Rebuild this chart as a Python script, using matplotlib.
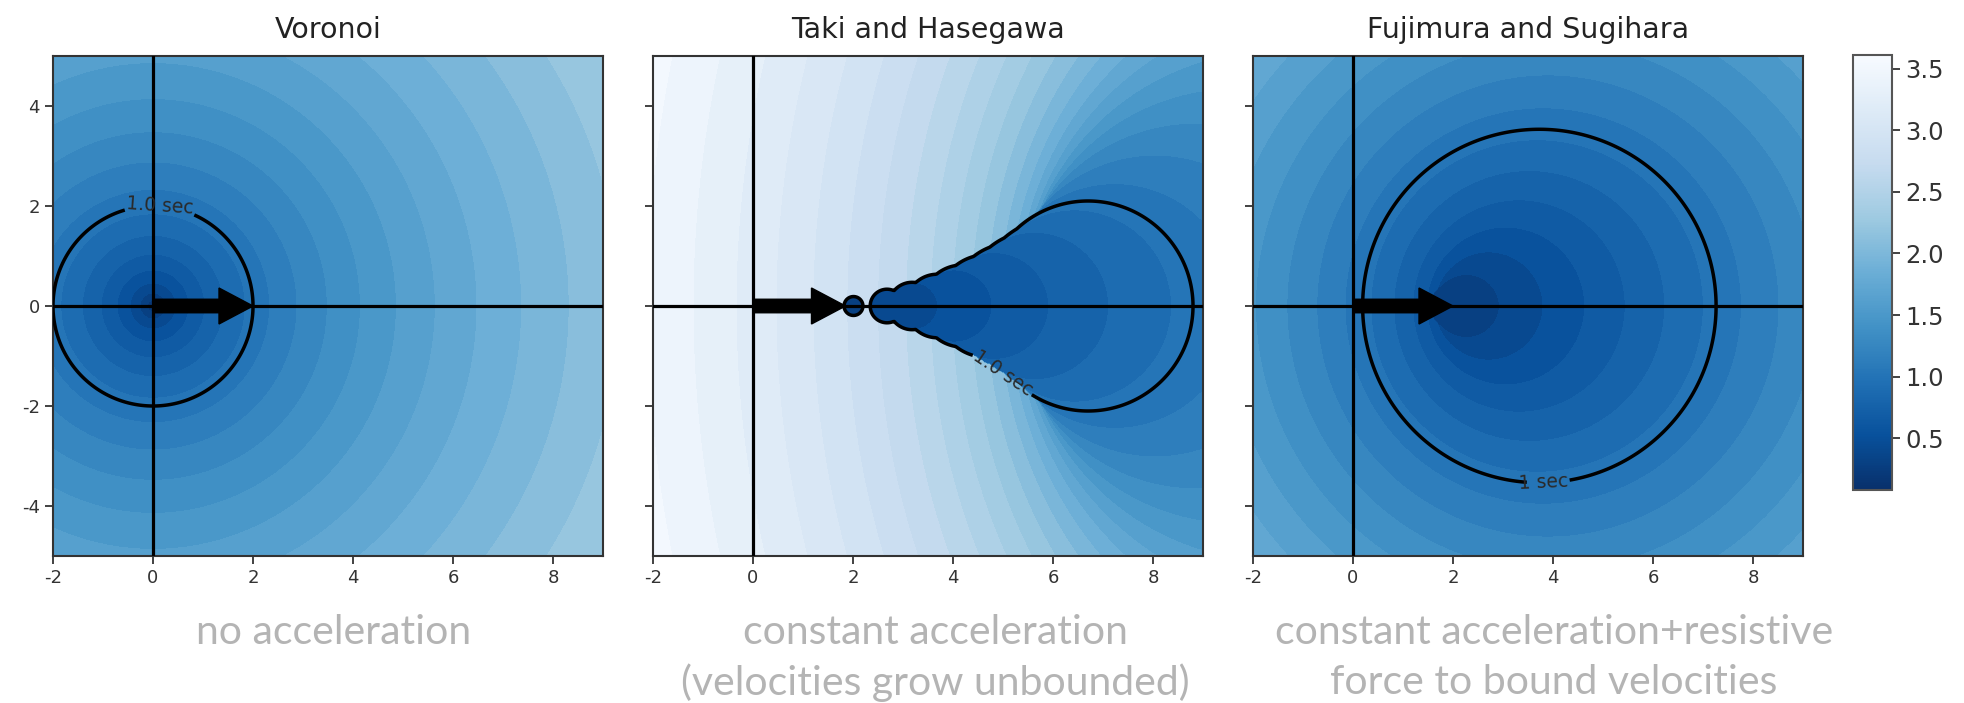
import numpy as np
import matplotlib
matplotlib.use("Agg")
import matplotlib.pyplot as plt
from matplotlib.colors import Normalize
from matplotlib.cm import ScalarMappable

plt.rcParams['axes.unicode_minus'] = False

# ---------------- data / chart content ----------------
titles = ["Voronoi", "Taki and Hasegawa", "Fujimura and Sugihara"]
captions = [["no acceleration"],
            ["constant acceleration", "(velocities grow unbounded)"],
            ["constant acceleration+resistive", "force to bound velocities"]]
contour_labels = ["1.0 sec", "1.0 sec", "1 sec"]
x_ticks = [-2, 0, 2, 4, 6, 8]
y_ticks = [-4, -2, 0, 2, 4]
cbar_ticks = [0.5, 1.0, 1.5, 2.0, 2.5, 3.0, 3.5]
x_range = [-2, 9]
y_range = [-5, 5]
color_range = [0.08, 3.61]

# model parameters
voronoi_speed = 2.0                       # 1 s circle of radius 2 around the origin
th_speed, th_accel = 6.7, 4.2             # Taki & Hasegawa
fs_speed, fs_accel, fs_drag = 9.07, 12.9, 2.15   # Fujimura & Sugihara
first_sample, sample_start, sample_step, sample_end = 0.3, 0.4, 0.075, 4.0
contour_time = 1.0
arrow_lengths = [2.0, 1.85, 2.0]
label_points = [(0.14, 2.0), (4.95, -1.45), (3.8, -3.5)]

# ---------------- fields ----------------
xs = np.linspace(x_range[0], x_range[1], 441)
ys = np.linspace(y_range[0], y_range[1], 401)
X, Y = np.meshgrid(xs, ys)
times = np.concatenate([[first_sample],
                        np.round(np.arange(sample_start, sample_end + 1e-9, sample_step), 3)])


def reach_fields(center_fn, radius_fn):
    """arrival time (interpolated between sampled discs) and distance to union of discs"""
    D = np.stack([np.hypot(X - center_fn(t), Y) - radius_fn(t) for t in times])
    inside = D <= 0
    k = np.where(inside.any(axis=0), inside.argmax(axis=0), len(times) - 1)
    kp = np.maximum(k - 1, 0)
    d_prev = np.take_along_axis(D, kp[None], 0)[0]
    d_cur = np.take_along_axis(D, k[None], 0)[0]
    frac = np.where(k > 0, d_prev / np.maximum(d_prev - d_cur, 1e-9), 0.0)
    T = np.where(k > 0, times[kp] + (times[k] - times[kp]) * np.clip(frac, 0, 1), times[0])
    line = D[times <= contour_time + 1e-9].min(axis=0)
    line = np.minimum(line, np.hypot(X - center_fn(contour_time), Y) - radius_fn(contour_time))
    return T, line


T1 = np.hypot(X, Y) / voronoi_speed
F1 = np.sqrt(T1)
T2, L2 = reach_fields(lambda t: th_speed * t, lambda t: 0.5 * th_accel * t ** 2)
T3, L3 = reach_fields(lambda t: fs_speed * (1 - np.exp(-fs_drag * t)) / fs_drag,
                      lambda t: fs_accel / fs_drag * (t - (1 - np.exp(-fs_drag * t)) / fs_drag))

fields = [F1, T2, T3]
line_fields = [T1 - contour_time, L2, L3]

# ---------------- figure ----------------
W, H = 1964, 703
fig = plt.figure(figsize=(W / 100, H / 100), dpi=100)
norm = Normalize(vmin=color_range[0], vmax=color_range[1])
cmap = plt.get_cmap('Blues_r')
levels = np.arange(0.0, 3.8, 0.12)

lefts = [53, 653, 1253]
ax_w, ax_top, ax_bot = 550, 56, 556
caption_x = [334, 935, 1554]
caption_y = [632, 683]

for i in range(3):
    ax = fig.add_axes([lefts[i] / W, 1 - ax_bot / H, ax_w / W, (ax_bot - ax_top) / H])
    ax.contourf(X, Y, fields[i], levels=levels, cmap=cmap, norm=norm, extend='both')
    ax.axhline(0, color='black', lw=2.3, zorder=3)
    ax.axvline(0, color='black', lw=2.3, zorder=3)
    cs = ax.contour(X, Y, line_fields[i], levels=[0.0], colors='black',
                    linewidths=2.5, zorder=4)
    ax.clabel(cs, fmt={0.0: contour_labels[i]}, manual=[label_points[i]],
              inline=True, inline_spacing=2, fontsize=13.5, colors='#2a2a2a')
    ax.arrow(0, 0, arrow_lengths[i], 0, width=0.27, head_width=0.72, head_length=0.68,
             length_includes_head=True, color='black', zorder=6)
    ax.set_xlim(x_range)
    ax.set_ylim(y_range)
    ax.set_xticks(x_ticks)
    ax.set_yticks(y_ticks)
    if i > 0:
        ax.set_yticklabels([])
    ax.tick_params(labelsize=13, length=6, width=1.3, colors='#333333')
    for s in ax.spines.values():
        s.set_linewidth(1.5)
        s.set_color('#333333')
    ax.set_title(titles[i], fontsize=20.5, color='#222222', pad=13)
    for j, line in enumerate(captions[i]):
        fig.text(caption_x[i] / W, 1 - caption_y[j] / H, line, ha='center', va='center',
                 fontsize=29.5, color='#b4b4b4', family='Lato', weight='normal')

cax = fig.add_axes([1853 / W, 1 - 490 / H, 39 / W, 435 / H])
cb = fig.colorbar(ScalarMappable(norm=norm, cmap=cmap), cax=cax, ticks=cbar_ticks)
cb.ax.tick_params(labelsize=17.5, length=6, width=1.3, colors='#333333')
cb.outline.set_linewidth(1.5)
cb.outline.set_edgecolor('#555555')

fig.savefig('out.png', dpi=100)
